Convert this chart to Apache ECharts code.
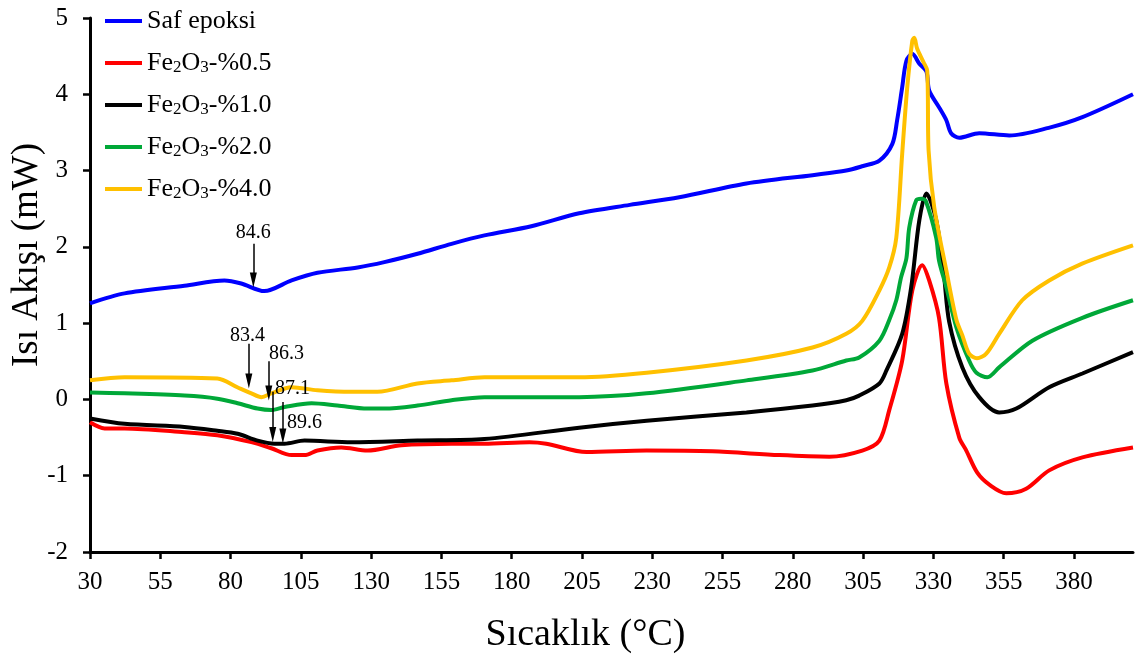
<!DOCTYPE html>
<html>
<head>
<meta charset="utf-8">
<script src="https://cdn.jsdelivr.net/npm/echarts@6/dist/echarts.min.js"></script>
<style>
html,body{margin:0;padding:0;background:#fff;}
#chart{width:1139px;height:655px;}
</style>
</head>
<body>
<div id="chart"></div>
<script>
// ---- Data ----
const seriesNames = ['Saf epoksi', 'Fe2O3-%0.5', 'Fe2O3-%1.0', 'Fe2O3-%2.0', 'Fe2O3-%4.0'];
const seriesColors = ['#0000FF', '#FF0000', '#000000', '#00A838', '#FFC000'];

const safX = [30, 42.3, 63.6, 77.8, 83.8, 92, 101.7, 110.9, 125.2, 134.7, 146.5, 158.6, 170.3, 187, 204, 222, 239.6, 263.5, 287, 299, 305, 310.8, 315.4, 317.1, 318.9, 320.4, 322.5, 325, 327.5, 328.5, 332, 334.6, 336.3, 339.2, 346.3, 357, 371, 383, 401];
const safY = [1.26, 1.39, 1.49, 1.56, 1.52, 1.42, 1.56, 1.66, 1.73, 1.80, 1.91, 2.04, 2.15, 2.27, 2.44, 2.55, 2.65, 2.83, 2.94, 3.00, 3.06, 3.13, 3.35, 3.66, 4.09, 4.44, 4.53, 4.40, 4.30, 4.05, 3.83, 3.66, 3.49, 3.43, 3.49, 3.46, 3.56, 3.70, 4.00];

const fe05X = [30, 35.2, 42.3, 63.6, 75.3, 87.4, 94.5, 101.7, 106.3, 110.9, 119.4, 128.7, 140.8, 158.6, 170.3, 186.3, 192.3, 206.6, 227.9, 251.4, 275.2, 293, 304.7, 310.8, 314.3, 318.9, 322.5, 326, 328.5, 332, 334.6, 339.2, 341.7, 345.6, 350, 355.9, 363, 371.2, 383, 401];
const fe05Y = [-0.30, -0.38, -0.38, -0.43, -0.47, -0.56, -0.64, -0.73, -0.73, -0.67, -0.63, -0.67, -0.60, -0.58, -0.58, -0.56, -0.58, -0.69, -0.67, -0.68, -0.73, -0.75, -0.67, -0.54, -0.14, 0.51, 1.43, 1.76, 1.56, 1.07, 0.21, -0.50, -0.67, -0.96, -1.12, -1.23, -1.17, -0.93, -0.76, -0.63];

const fe10X = [30, 42.3, 63.6, 75.3, 82.5, 89.6, 95.6, 99.2, 106.3, 123, 146.5, 170.3, 204, 228, 263.5, 287, 299, 303.6, 310.8, 313.3, 318.9, 322.1, 325, 327.5, 331, 333.7, 335.6, 340.3, 346.3, 353.4, 359.5, 371.2, 383, 401];
const fe10Y = [-0.25, -0.32, -0.36, -0.41, -0.45, -0.54, -0.58, -0.58, -0.54, -0.56, -0.54, -0.52, -0.37, -0.28, -0.17, -0.08, -0.01, 0.05, 0.21, 0.38, 0.86, 1.47, 2.35, 2.70, 2.35, 1.65, 1.02, 0.42, 0.03, -0.17, -0.12, 0.16, 0.34, 0.62];

const fe20X = [30, 42.3, 63.6, 75.3, 82.5, 89.6, 94.5, 99.2, 108.8, 118, 128.7, 134.7, 146.5, 158.6, 170.3, 204, 228, 263.5, 287, 299, 303.6, 310.8, 314.3, 316.8, 318.5, 320.4, 321.4, 323.9, 325.7, 327.3, 331, 332, 334.6, 338.2, 342.7, 345.3, 349.2, 353.4, 365.2, 383, 401];
const fe20Y = [0.09, 0.08, 0.05, 0.01, -0.05, -0.12, -0.14, -0.10, -0.05, -0.08, -0.12, -0.12, -0.08, -0.01, 0.03, 0.03, 0.08, 0.25, 0.38, 0.51, 0.55, 0.77, 1.04, 1.30, 1.60, 1.85, 2.25, 2.61, 2.63, 2.60, 2.12, 1.82, 1.47, 0.94, 0.51, 0.35, 0.29, 0.42, 0.77, 1.07, 1.30];

const fe40X = [30, 42.3, 75.3, 82.4, 87.4, 91, 94.5, 101.7, 110.9, 123, 132.2, 146.5, 158.6, 170.3, 204, 228, 263.5, 287, 299, 304.7, 310.8, 314.3, 316.8, 318.9, 320.7, 322.5, 323.2, 324.2, 326.5, 327.8, 328.3, 330.3, 334.6, 338.2, 340.3, 342.7, 345.5, 348.8, 353.4, 361.6, 371.2, 382.9, 401];
const fe40Y = [0.25, 0.29, 0.275, 0.16, 0.08, 0.03, 0.08, 0.16, 0.12, 0.10, 0.10, 0.21, 0.25, 0.29, 0.29, 0.35, 0.51, 0.68, 0.86, 1.03, 1.43, 1.73, 2.12, 3.22, 4.09, 4.70, 4.74, 4.60, 4.42, 4.31, 3.26, 2.52, 1.69, 1.04, 0.84, 0.60, 0.54, 0.60, 0.86, 1.30, 1.56, 1.78, 2.02];

const xTicks = [30, 55, 80, 105, 130, 155, 180, 205, 230, 255, 280, 305, 330, 355, 380];
const yTicks = [-2, -1, 0, 1, 2, 3, 4, 5];

// Annotations: arrow x, arrow start y, arrow end y, label text, label x, label y, series index
const annX = [88.1, 86.5, 93.6, 95.0, 98.6];
const annTop = [2.04, 0.73, 0.50, 0.10, -0.035];
const annEnd = [1.566, 0.242, 0.085, -0.46, -0.48];
const annText = ['84.6', '83.4', '86.3', '87.1', '89.6'];
const annLabelX = [88.1, 86.0, 99.9, 102.0, 106.3];
const annLabelY = [2.18, 0.84, 0.60, 0.14, -0.30];
const annSeries = [0, 4, 3, 2, 1];

// ---- Build ----
const FONT = '"Liberation Serif", "Times New Roman", serif';
const xs = [safX, fe05X, fe10X, fe20X, fe40X];
const ys = [safY, fe05Y, fe10Y, fe20Y, fe40Y];

const series = seriesNames.map((name, i) => {
  const s = {
    name: name,
    type: 'line',
    data: xs[i].map((x, k) => [x, ys[i][k]]),
    showSymbol: false,
    symbol: 'none',
    smooth: 0.3,
    lineStyle: { color: seriesColors[i], width: 4 },
    itemStyle: { color: seriesColors[i] },
    z: 2 + i
  };
  const lines = [];
  const points = [];
  annSeries.forEach((si, a) => {
    if (si !== i) return;
    lines.push([{ coord: [annX[a], annTop[a]] }, { coord: [annX[a], annEnd[a]] }]);
    points.push({ name: annText[a], coord: [annLabelX[a], annLabelY[a]] });
  });
  if (lines.length) {
    s.markLine = {
      silent: true,
      symbol: ['none', 'triangle'],
      symbolSize: [7, 15],
      lineStyle: { color: '#000', width: 1.5, type: 'solid' },
      itemStyle: { color: '#000' },
      label: { show: false },
      emphasis: { disabled: true },
      data: lines,
      z: 20
    };
    s.markPoint = {
      silent: true,
      symbol: 'circle',
      symbolSize: 1,
      itemStyle: { color: 'rgba(0,0,0,0)' },
      label: { show: true, position: 'inside', formatter: (p) => p.name, color: '#000', fontFamily: FONT, fontSize: 20 },
      data: points,
      z: 20
    };
  }
  return s;
});

const chart = echarts.init(document.getElementById('chart'), null, { renderer: 'canvas' });
chart.setOption({
  animation: false,
  backgroundColor: '#fff',
  grid: { left: 90, right: 6, top: 18, bottom: 103, containLabel: false, outerBoundsMode: 'none' },
  legend: {
    orient: 'vertical',
    left: 100,
    top: 3,
    icon: 'rect',
    itemWidth: 37,
    itemHeight: 4,
    itemGap: 16,
    data: seriesNames,
    formatter: function (name) {
      if (name.indexOf('Fe2O3') === 0) {
        return '{n|Fe}{s|2}{n|O}{s|3}{n|' + name.slice(5) + '}';
      }
      return '{n|' + name + '}';
    },
    textStyle: {
      color: '#000',
      fontFamily: FONT,
      rich: {
        n: { fontFamily: FONT, fontSize: 26, lineHeight: 26, color: '#000', verticalAlign: 'bottom' },
        s: { fontFamily: FONT, fontSize: 17, lineHeight: 26, color: '#000', verticalAlign: 'bottom' }
      }
    }
  },
  xAxis: {
    type: 'value',
    min: 30,
    max: 401,
    interval: 25,
    name: 'Sıcaklık (°C)',
    nameLocation: 'middle',
    nameGap: 64,
    nameMoveOverlap: false,
    nameTextStyle: { fontFamily: FONT, fontSize: 38, color: '#000', padding: [0, 52, 0, 0] },
    axisLine: { show: true, onZero: false, lineStyle: { color: '#000', width: 3 } },
    axisTick: { show: true, inside: false, length: 7, lineStyle: { color: '#000', width: 2.5 }, customValues: xTicks },
    axisLabel: { margin: 18, fontFamily: FONT, fontSize: 25, color: '#000', customValues: xTicks },
    splitLine: { show: false }
  },
  yAxis: {
    type: 'value',
    min: -2,
    max: 5,
    interval: 1,
    name: 'Isı Akışı (mW)',
    nameLocation: 'middle',
    nameGap: 44,
    nameMoveOverlap: false,
    nameTextStyle: { fontFamily: FONT, fontSize: 37, color: '#000', padding: [0, 0, 0, 60] },
    axisLine: { show: true, onZero: false, lineStyle: { color: '#000', width: 3 } },
    axisTick: { show: true, inside: false, length: 7, lineStyle: { color: '#000', width: 2.5 }, customValues: yTicks },
    axisLabel: { margin: 22, fontFamily: FONT, fontSize: 25, color: '#000', customValues: yTicks },
    splitLine: { show: false }
  },
  series: series
});
</script>
</body>
</html>
